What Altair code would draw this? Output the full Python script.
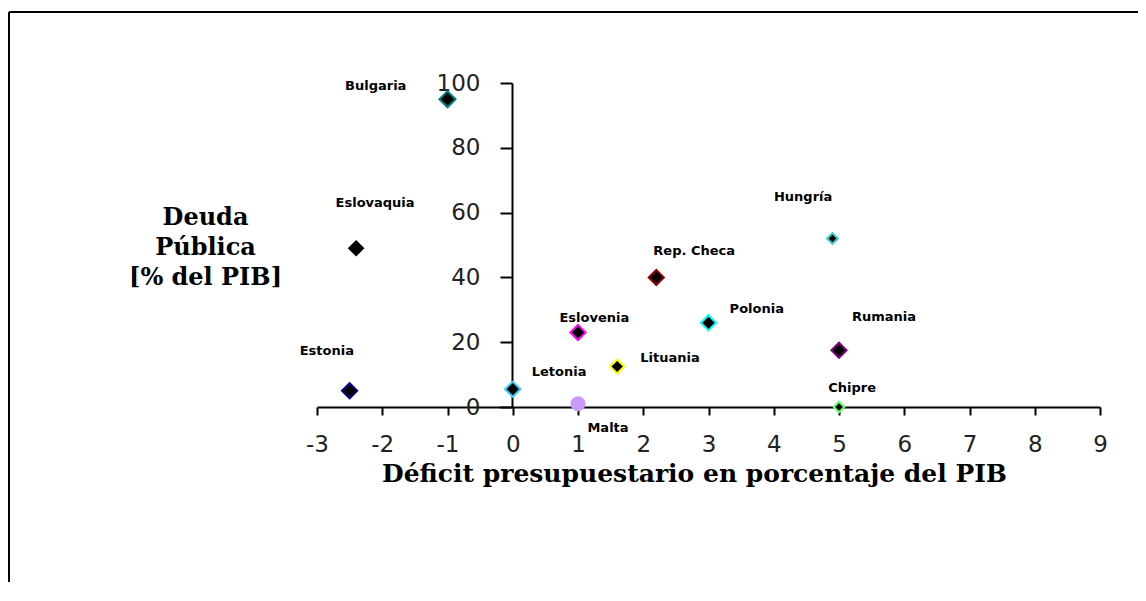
import altair as alt
import pandas as pd

# ---- data ----
countries = ["Bulgaria", "Eslovaquia", "Estonia", "Letonia", "Malta", "Eslovenia",
             "Lituania", "Rep. Checa", "Polonia", "Hungría", "Rumania", "Chipre"]
deficit = [-1.0, -2.4, -2.5, 0.0, 1.0, 1.0, 1.6, 2.2, 3.0, 4.9, 5.0, 5.0]
debt = [95, 49, 5, 5.5, 1, 23, 12.5, 40, 26, 52, 17.5, 0]

# label anchors (data units)
label_x = [-2.10, -2.11, -2.85, 0.71, 1.46, 1.25, 2.41, 2.78, 3.74, 4.45, 5.69, 5.20]
label_y = [99.1, 63.0, 17.3, 10.8, -6.5, 27.5, 15.1, 48.1, 30.2, 64.8, 27.8, 5.9]

x_ticks = [-3, -2, -1, 0, 1, 2, 3, 4, 5, 6, 7, 8, 9]
y_ticks = [0, 20, 40, 60, 80, 100]

x_title = "Déficit presupuestario en porcentaje del PIB"
y_title = ["Deuda", "Pública", "[% del PIB]"]

# ---- styles ----
edge_colors = ["#008080", "#000000", "#000080", "#33ccff", "#cc99ff", "#ff00ff",
               "#ffff00", "#990000", "#00ffff", "#33cccc", "#800080", "#66ff66"]
fill_colors = ["#000000", "#000000", "#000000", "#000000", "#cc99ff", "#000000",
               "#000000", "#000000", "#000000", "#000000", "#000000", "#000000"]
marker_shapes = ["diamond"] * 4 + ["circle"] + ["diamond"] * 7
marker_sizes = [260, 190, 230, 230, 170, 230, 200, 230, 230, 110, 230, 110]

df = pd.DataFrame({
    "country": countries, "deficit": deficit, "debt": debt,
    "lx": label_x, "ly": label_y,
    "edge": edge_colors, "fill": fill_colors,
    "shape": marker_shapes, "size": marker_sizes,
})

W, H = 1129, 570
xs = alt.Scale(domain=[-3, 9], range=[308, 1091], nice=False, zero=False)
ys = alt.Scale(domain=[0, 100], range=[395, 71], nice=False, zero=False)

x_axis = alt.Axis(
    values=x_ticks, offset=-175, grid=False,
    domainColor="black", domainWidth=2, tickColor="black", tickWidth=2, tickSize=8,
    labelFont="DejaVu Sans", labelFontSize=23, labelColor="#222", labelPadding=18,
    labelFlush=False, labelOverlap=False, labelExpr="'' + datum.value",
    title=x_title, titleFont="DejaVu Serif", titleFontWeight="bold", titleFontSize=25,
    titleColor="black", titleX=685, titleY=66, titleAlign="center", titleBaseline="middle",
)
y_axis = alt.Axis(
    values=y_ticks, offset=-503, grid=False,
    domainColor="black", domainWidth=2, tickColor="black", tickWidth=2, tickSize=12,
    labelFont="DejaVu Sans", labelFontSize=23, labelColor="#222", labelPadding=20,
    labelFlush=False, labelOverlap=False,
    title=y_title, titleFont="DejaVu Serif", titleFontWeight="bold", titleFontSize=24,
    titleColor="black", titleAngle=0, titleX=-307, titleY=205, titleAlign="center",
    titleBaseline="middle", titleLineHeight=30,
)

points = alt.Chart(df).mark_point(filled=True, strokeWidth=2, opacity=1).encode(
    x=alt.X("deficit:Q", scale=xs, axis=x_axis),
    y=alt.Y("debt:Q", scale=ys, axis=y_axis),
    fill=alt.Fill("fill:N", scale=None),
    stroke=alt.Stroke("edge:N", scale=None),
    shape=alt.Shape("shape:N", scale=None),
    size=alt.Size("size:Q", scale=None),
)

labels = alt.Chart(df).mark_text(
    font="DejaVu Sans", fontWeight="bold", fontSize=13, color="black",
    align="center", baseline="middle",
).encode(
    x=alt.X("lx:Q", scale=xs, axis=x_axis),
    y=alt.Y("ly:Q", scale=ys, axis=y_axis),
    text="country:N",
)

one = pd.DataFrame({"k": [0]})
frame_top = alt.Chart(one).mark_rule(color="black", strokeWidth=2).encode(
    x=alt.value(0), x2=alt.value(W), y=alt.value(0))
frame_left = alt.Chart(one).mark_rule(color="black", strokeWidth=2).encode(
    x=alt.value(0), y=alt.value(0), y2=alt.value(H))

chart = alt.layer(points, labels, frame_top, frame_left).properties(
    width=W, height=H,
    autosize=alt.AutoSizeParams(type="none"),
    padding={"left": 1, "top": 4, "right": 0, "bottom": 0},
    background="white",
).configure_view(stroke=None)

chart.save("out.html", embed_options={"renderer": "svg", "actions": False})
